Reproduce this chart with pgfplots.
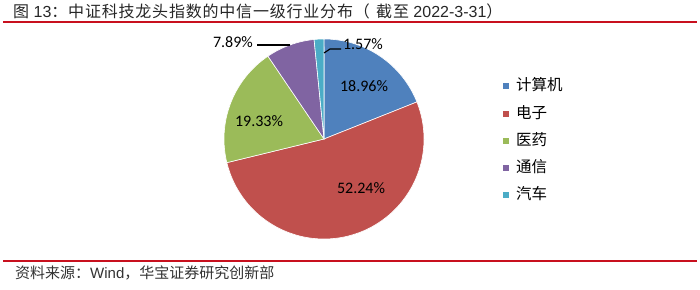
\documentclass[border=0pt]{standalone}
\usepackage{fontspec}
\usepackage{pgfplots}
\usepackage{pgfplotstable}
\pgfplotsset{compat=1.18}
\setmainfont{Liberation Sans}
\newfontfamily\cjk{Noto Sans CJK SC}
\newfontfamily\cjksp[LetterSpace=5]{Noto Sans CJK SC}
\newfontfamily\calfont{Carlito}
\definecolor{cA}{HTML}{4F81BD}
\definecolor{cB}{HTML}{C0504D}
\definecolor{cC}{HTML}{9BBB59}
\definecolor{cD}{HTML}{8064A2}
\definecolor{cE}{HTML}{4BACC6}
\definecolor{rline}{RGB}{200,16,30}
\pgfplotstableread{
idx value
0 18.96
1 52.24
2 19.33
3 7.89
4 1.57
}\piedata
\begin{document}
\begin{tikzpicture}[x=1pt,y=1pt]
\useasboundingbox (0,0) rectangle (700,289);
% cumulative angles (degrees, clockwise from top)
\pgfplotstablegetelem{0}{value}\of\piedata \pgfmathsetmacro\vA{\pgfplotsretval}
\pgfplotstablegetelem{1}{value}\of\piedata \pgfmathsetmacro\vB{\pgfplotsretval}
\pgfplotstablegetelem{2}{value}\of\piedata \pgfmathsetmacro\vC{\pgfplotsretval}
\pgfplotstablegetelem{3}{value}\of\piedata \pgfmathsetmacro\vD{\pgfplotsretval}
\pgfplotstablegetelem{4}{value}\of\piedata \pgfmathsetmacro\vE{\pgfplotsretval}
\pgfmathsetmacro\aA{0}
\pgfmathsetmacro\aB{\aA+3.6*\vA}
\pgfmathsetmacro\aC{\aB+3.6*\vB}
\pgfmathsetmacro\aD{\aC+3.6*\vC}
\pgfmathsetmacro\aE{\aD+3.6*\vD}
\pgfmathsetmacro\aF{\aE+3.6*\vE}
% title and rules
\node[anchor=west, inner sep=0pt, text=black!85] at (13,277.5)
  {\fontsize{16}{16}\selectfont{\cjksp 图} 13{\cjksp ：中证科技龙头指数的中信一级行业分布（\hspace{0.4em}截至} 2022-3-31{\cjk ）}};
\draw[rline, line width=2pt] (3,267) -- (697,267);
\draw[rline, line width=2pt] (3,28) -- (697,28);
\node[anchor=west, inner sep=0pt, text=black!80] at (15,16)
  {\fontsize{15}{15}\selectfont{\cjk 资料来源：}Wind{\cjk ，华宝证券研究创新部}};
\begin{axis}[
  at={(324,150)}, anchor=center,
  scale only axis, width=200pt, height=200pt,
  xmin=-1, xmax=1, ymin=-1, ymax=1,
  hide axis, clip=false,
  legend image code/.code={\fill[#1,draw=none] (0pt,-3pt) rectangle (6pt,3pt);},
  legend cell align=left,
  legend style={at={(axis cs:1.79,-0.02)}, anchor=west, draw=none, fill=none,
    inner sep=0pt, row sep=12.25pt,
    font=\cjk\fontsize{15.5}{16}\selectfont,
    nodes={inner sep=0pt, text height=12pt, text depth=3pt},
    /tikz/every odd column/.append style={column sep=7pt}},
]
\addplot[fill=cA, draw=white, line width=0.6pt, domain=\aA:\aB, samples=60, variable=\t]
  ({sin(\t)},{cos(\t)}) -- (axis cs:0,0) -- cycle;
\addlegendentry{计算机}
\addplot[fill=cB, draw=white, line width=0.6pt, domain=\aB:\aC, samples=120, variable=\t]
  ({sin(\t)},{cos(\t)}) -- (axis cs:0,0) -- cycle;
\addlegendentry{电子}
\addplot[fill=cC, draw=white, line width=0.6pt, domain=\aC:\aD, samples=60, variable=\t]
  ({sin(\t)},{cos(\t)}) -- (axis cs:0,0) -- cycle;
\addlegendentry{医药}
\addplot[fill=cD, draw=white, line width=0.6pt, domain=\aD:\aE, samples=30, variable=\t]
  ({sin(\t)},{cos(\t)}) -- (axis cs:0,0) -- cycle;
\addlegendentry{通信}
\addplot[fill=cE, draw=white, line width=0.6pt, domain=\aE:\aF, samples=10, variable=\t]
  ({sin(\t)},{cos(\t)}) -- (axis cs:0,0) -- cycle;
\addlegendentry{汽车}
% leader lines
\addplot[forget plot, black, line width=1.2pt, no marks] coordinates {(-0.67,0.94) (-0.34,0.94)};
\addplot[forget plot, black, line width=1.2pt, no marks] coordinates {(0.0,0.86) (0.06,0.90) (0.17,0.90)};
% labels
\node[font=\calfont\fontsize{16}{16}\selectfont] at (axis cs:0.40,0.53) {18.96\%};
\node[font=\calfont\fontsize{16}{16}\selectfont] at (axis cs:0.37,-0.49) {52.24\%};
\node[font=\calfont\fontsize{16}{16}\selectfont] at (axis cs:-0.65,0.18) {19.33\%};
\node[font=\calfont\fontsize{16}{16}\selectfont] at (axis cs:-0.91,0.97) {7.89\%};
\node[font=\calfont\fontsize{16}{16}\selectfont] at (axis cs:0.39,0.95) {1.57\%};
\end{axis}
\end{tikzpicture}
\end{document}
